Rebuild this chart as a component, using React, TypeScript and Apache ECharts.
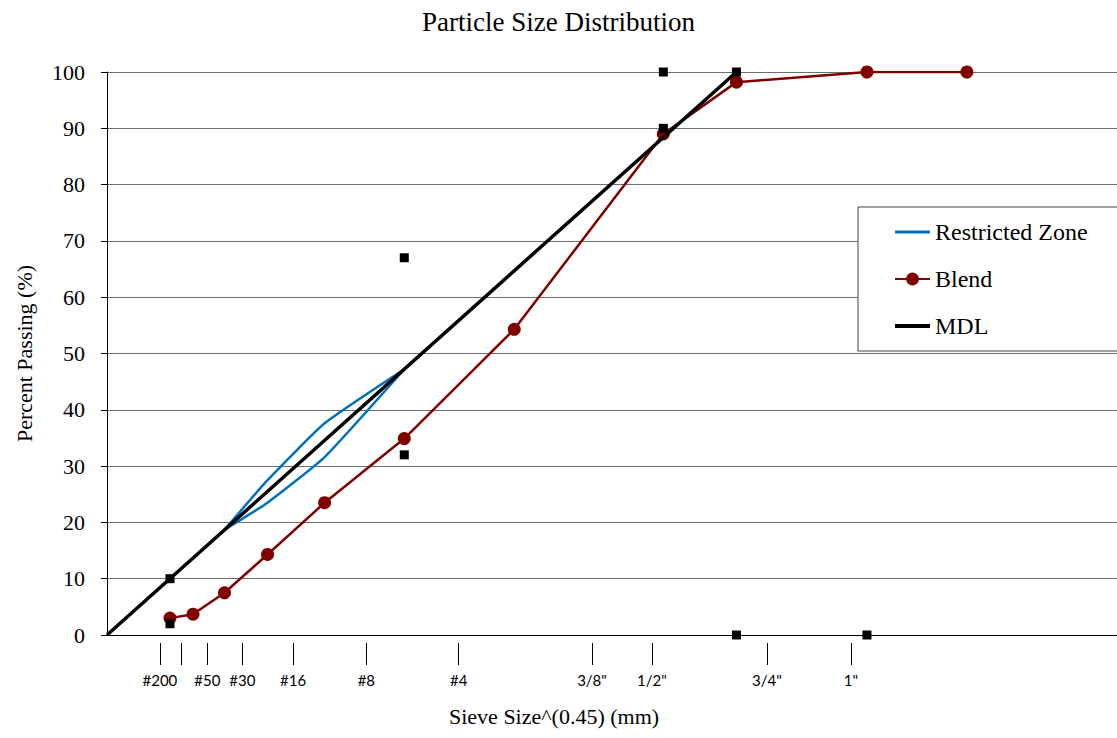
import React, { useEffect, useRef } from "react";
import * as echarts from "echarts";

// Sieve sizes (mm) for the gradation, plotted as size^0.45
const sieveSizesMm = [0.075, 0.15, 0.3, 0.6, 1.18, 2.36, 4.75, 9.5, 12.5, 19, 25];
const blendPassing = [3.0, 3.7, 7.5, 14.3, 23.5, 34.9, 54.3, 89.0, 98.2, 100, 100];

// Restricted zone (mm and % passing)
const rzSizesMm = [0.3, 0.6, 1.18, 2.36];
const rzLower = [18.7, 23.5, 31.6, 47.2];
const rzUpper = [18.7, 27.5, 37.6, 47.2];

// Maximum density line: from origin to maximum size at 100 %
const mdlSizesMm = [0, 12.5];
const mdlPassing = [0, 100];

// Control points (mm, % passing)
const controlSizesMm = [0.075, 0.075, 2.36, 2.36, 9.5, 9.5, 12.5, 12.5, 19];
const controlPassing = [2, 10, 32, 67, 90, 100, 100, 0, 0];

// Sieve tick marks along the bottom (axis units) and their labels
const sieveTickPositions = [0.262, 0.37, 0.497, 0.67, 0.921, 1.284, 1.741, 2.401, 2.698, 3.267, 3.683];
const sieveTickLabels = ["#200", "", "#50", "#30", "#16", "#8", "#4", '3/8"', '1/2"', '3/4"', '1"'];

const yTicks = [0, 10, 20, 30, 40, 50, 60, 70, 80, 90, 100];

const P = 0.45;
const tx = (mm: number) => Math.pow(mm, P);
const SERIF = "'Liberation Serif', 'Times New Roman', serif";

export default function App() {
  const ref = useRef<HTMLDivElement>(null);
  useEffect(() => {
    if (!ref.current) return;
    const chart = echarts.init(ref.current, undefined, { renderer: "svg" });
    const labelValues = sieveTickPositions.filter((_, i) => sieveTickLabels[i] !== "");
    const option: any = {
      animation: false,
      backgroundColor: "#fff",
      title: [
        {
          text: "Particle Size Distribution",
          left: "center",
          top: 8,
          padding: 0,
          textStyle: { fontFamily: SERIF, fontSize: 27, fontWeight: "normal", color: "#000" },
        },
        {
          text: "Sieve Size^(0.45) (mm)",
          left: 449,
          top: 705,
          padding: 0,
          textStyle: { fontFamily: SERIF, fontSize: 22, fontWeight: "normal", color: "#000" },
        },
      ],
      grid: { left: 107, right: 0, top: 72, bottom: 103, containLabel: false },
      legend: {
        data: [
          { name: "Restricted Zone", icon: "path://M0 0H35V3H0Z" },
          { name: "Blend" },
          { name: "MDL", icon: "path://M0 0H35V4H0Z" },
        ],
        orient: "vertical",
        left: 858,
        top: 207,
        padding: [13, 40, 13, 36],
        itemWidth: 35,
        itemHeight: 16,
        itemGap: 23,
        backgroundColor: "#fff",
        borderColor: "#404040",
        borderWidth: 1,
        borderRadius: 0,
        textStyle: { fontFamily: SERIF, fontSize: 24, color: "#000", lineHeight: 24 },
      },
      xAxis: [
        {
          type: "value",
          min: 0,
          max: 5,
          axisLine: { show: true, lineStyle: { color: "#000", width: 1 } },
          axisTick: { show: false },
          axisLabel: { show: false },
          splitLine: { show: false },
        },
        {
          type: "value",
          min: 0,
          max: 5,
          position: "bottom",
          offset: 8,
          axisLine: { show: false },
          axisTick: {
            show: true,
            length: 22,
            customValues: sieveTickPositions,
            lineStyle: { color: "#000", width: 1 },
          },
          axisLabel: {
            show: true,
            customValues: labelValues,
            margin: 29,
            fontFamily: "Lato, 'Open Sans', sans-serif",
            fontSize: 15,
            color: "#000",
            formatter: (v: number) => {
              let best = 0;
              let d = Infinity;
              sieveTickPositions.forEach((p, i) => {
                if (Math.abs(p - v) < d) {
                  d = Math.abs(p - v);
                  best = i;
                }
              });
              return sieveTickLabels[best];
            },
          },
          splitLine: { show: false },
        },
      ],
      yAxis: {
        type: "value",
        min: 0,
        max: 100,
        interval: 10,
        name: "Percent Passing (%)",
        nameLocation: "middle",
        nameGap: 72,
        nameTextStyle: { fontFamily: SERIF, fontSize: 22, color: "#000" },
        axisLine: { show: true, lineStyle: { color: "#000", width: 1 } },
        axisTick: { show: true, length: 6, lineStyle: { color: "#000" } },
        axisLabel: {
          margin: 22,
          fontFamily: SERIF,
          fontSize: 22,
          color: "#000",
          customValues: yTicks,
        },
        splitLine: { show: true, lineStyle: { color: "#6e6e6e", width: 1 } },
      },
      series: [
        {
          name: "Restricted Zone",
          type: "line",
          xAxisIndex: 0,
          data: rzSizesMm.map((s, i) => [tx(s), rzLower[i]]),
          symbol: "none",
          smooth: 0.15,
          lineStyle: { color: "#0070C0", width: 2.5 },
          itemStyle: { color: "#0070C0" },
          z: 2,
        },
        {
          name: "Restricted Zone",
          type: "line",
          xAxisIndex: 0,
          data: rzSizesMm.map((s, i) => [tx(s), rzUpper[i]]),
          symbol: "none",
          smooth: 0.15,
          lineStyle: { color: "#0070C0", width: 2.5 },
          itemStyle: { color: "#0070C0" },
          z: 2,
        },
        {
          name: "Blend",
          type: "line",
          xAxisIndex: 0,
          data: sieveSizesMm.map((s, i) => [tx(s), blendPassing[i]]),
          symbol: "circle",
          symbolSize: 13,
          showAllSymbol: true,
          lineStyle: { color: "#800000", width: 2.5 },
          itemStyle: { color: "#800000" },
          z: 3,
        },
        {
          name: "MDL",
          type: "line",
          xAxisIndex: 0,
          data: mdlSizesMm.map((s, i) => [tx(s), mdlPassing[i]]),
          symbol: "none",
          lineStyle: { color: "#000", width: 3.5 },
          itemStyle: { color: "#000" },
          z: 4,
        },
        {
          name: "Control Points",
          type: "scatter",
          xAxisIndex: 0,
          data: controlSizesMm.map((s, i) => [tx(s), controlPassing[i]]),
          symbol: "rect",
          symbolSize: 9,
          itemStyle: { color: "#000", opacity: 1 },
          z: 5,
        },
      ],
    };
    chart.setOption(option);
    return () => chart.dispose();
  }, []);
  return (
    <div
      ref={ref}
      style={{ position: "fixed", left: 0, top: 0, width: 1117, height: 738, background: "#fff" }}
    />
  );
}
